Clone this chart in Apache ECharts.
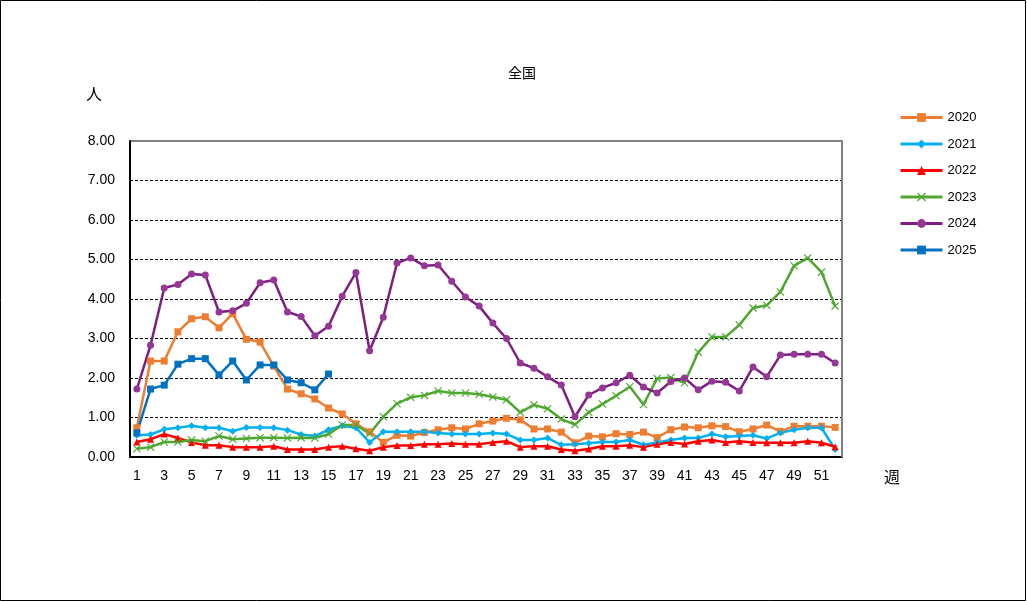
<!DOCTYPE html>
<html><head><meta charset="utf-8">
<script src="https://cdn.jsdelivr.net/npm/echarts@6/dist/echarts.min.js"></script>
<style>html,body{margin:0;padding:0;background:#fff}#c{width:1027px;height:602px}</style>
</head><body><div id="c"></div>
<script>
const weeks = Array.from({length:52},(_,i)=>String(i+1));
const y2020 = [0.74,2.43,2.43,3.17,3.50,3.55,3.27,3.63,2.98,2.91,2.30,1.72,1.60,1.47,1.24,1.09,0.84,0.64,0.37,0.55,0.53,0.62,0.69,0.74,0.71,0.84,0.91,0.98,0.94,0.71,0.71,0.63,0.36,0.53,0.51,0.59,0.57,0.63,0.49,0.69,0.76,0.74,0.79,0.77,0.64,0.71,0.81,0.65,0.78,0.78,0.78,0.75];
const y2021 = [0.55,0.57,0.70,0.74,0.79,0.74,0.74,0.65,0.75,0.75,0.74,0.68,0.57,0.53,0.69,0.79,0.74,0.37,0.64,0.64,0.64,0.64,0.61,0.58,0.58,0.58,0.61,0.58,0.43,0.43,0.48,0.31,0.32,0.35,0.38,0.38,0.43,0.31,0.37,0.43,0.48,0.48,0.58,0.51,0.53,0.55,0.47,0.61,0.69,0.74,0.74,0.19];
const y2022 = [0.38,0.45,0.58,0.48,0.37,0.30,0.30,0.25,0.25,0.25,0.27,0.19,0.19,0.19,0.25,0.27,0.21,0.16,0.25,0.29,0.29,0.32,0.32,0.34,0.32,0.32,0.37,0.40,0.25,0.27,0.27,0.19,0.16,0.20,0.27,0.27,0.30,0.25,0.32,0.37,0.33,0.40,0.43,0.37,0.40,0.37,0.36,0.36,0.36,0.40,0.36,0.26];
const y2023 = [0.21,0.25,0.38,0.38,0.43,0.40,0.53,0.45,0.47,0.49,0.49,0.48,0.49,0.48,0.58,0.81,0.81,0.59,1.02,1.35,1.51,1.56,1.67,1.62,1.62,1.59,1.52,1.45,1.13,1.32,1.22,0.96,0.82,1.13,1.34,1.55,1.78,1.33,1.99,2.01,1.88,2.65,3.04,3.04,3.34,3.77,3.84,4.18,4.84,5.04,4.68,3.82];
const y2024 = [1.72,2.83,4.28,4.37,4.63,4.61,3.67,3.70,3.89,4.41,4.48,3.67,3.56,3.07,3.31,4.07,4.67,2.69,3.54,4.91,5.04,4.84,4.86,4.45,4.05,3.82,3.39,3.00,2.38,2.25,2.03,1.82,1.02,1.57,1.75,1.88,2.07,1.77,1.62,1.91,2.00,1.70,1.92,1.89,1.67,2.28,2.03,2.58,2.60,2.60,2.60,2.38];
const y2025 = [0.61,1.72,1.82,2.35,2.49,2.49,2.08,2.43,1.95,2.33,2.33,1.95,1.88,1.70,2.10];
const seriesNames = ['2020','2021','2022','2023','2024','2025'];

const crossPath = 'path://M0,1 L1,0 L5,4 L9,0 L10,1 L6,5 L10,9 L9,10 L5,6 L1,10 L0,9 L4,5 Z';
function mk(name, data, color, symbol, size, itemColor){
  return {name, type:'line', data, symbol, symbolSize:size, showSymbol:true,
    lineStyle:{color, width:2.5}, itemStyle:{color:itemColor||color},
    emphasis:{disabled:true}, animation:false};
}
const chart = echarts.init(document.getElementById('c'), null, {renderer:'canvas'});
chart.setOption({
  animation:false,
  backgroundColor:'#fff',
  title:{text:'全国', left:517, top:61, textAlign:'center',
    textStyle:{fontFamily:'Noto Sans CJK JP', fontSize:14, fontWeight:'normal', color:'#000'}},
  legend:{orient:'vertical', left:894, top:106, itemWidth:42, itemHeight:11, itemGap:13.5,
    lineStyle:{width:3},
    textStyle:{fontFamily:'Liberation Sans', fontSize:13, color:'#000'},
    data:seriesNames},
  grid:{left:130, right:185, top:141, bottom:145, show:false},
  xAxis:{type:'category', data:weeks, boundaryGap:true,
    axisLine:{lineStyle:{color:'#000', width:2}},
    axisTick:{inside:true, length:5, interval:0, lineStyle:{color:'#000'}},
    axisLabel:{interval:1, margin:12, fontFamily:'Liberation Sans', fontSize:14, color:'#000'},
    splitLine:{show:false}},
  yAxis:{type:'value', min:0, max:8, interval:1,
    axisLine:{show:true, lineStyle:{color:'#000', width:2}},
    axisTick:{show:false},
    axisLabel:{margin:15, fontFamily:'Liberation Sans', fontSize:14, color:'#000', formatter:v=>v.toFixed(2)},
    splitLine:{show:true, lineStyle:{color:'#000', width:1, type:[3,2]}}},
  graphic:[
    {type:'rect', shape:{x:0.5,y:0.5,width:1025,height:600}, style:{fill:null, stroke:'#000', lineWidth:1}, silent:true},
    {type:'polyline', z:100, shape:{points:[[131,141],[842,141],[842,457]]}, style:{fill:null, stroke:'#808080', lineWidth:2}, silent:true},
    {type:'text', left:86, top:86, style:{text:'人', font:'16px "Noto Sans CJK JP"', fill:'#000'}},
    {type:'text', left:884, top:469, style:{text:'週', font:'16px "Noto Sans CJK JP"', fill:'#000'}}
  ],
  series:[
    mk('2020', y2020, '#ED7D31', 'rect', 7),
    mk('2021', y2021, '#00B0F0', 'diamond', 7),
    mk('2022', y2022, '#FF0000', 'triangle', 7),
    mk('2023', y2023, '#4EA72E', crossPath, 8),
    mk('2024', y2024, '#7E1E80', 'circle', 7, '#963696'),
    mk('2025', y2025, '#0070C0', 'rect', 7)
  ]
});
</script></body></html>
